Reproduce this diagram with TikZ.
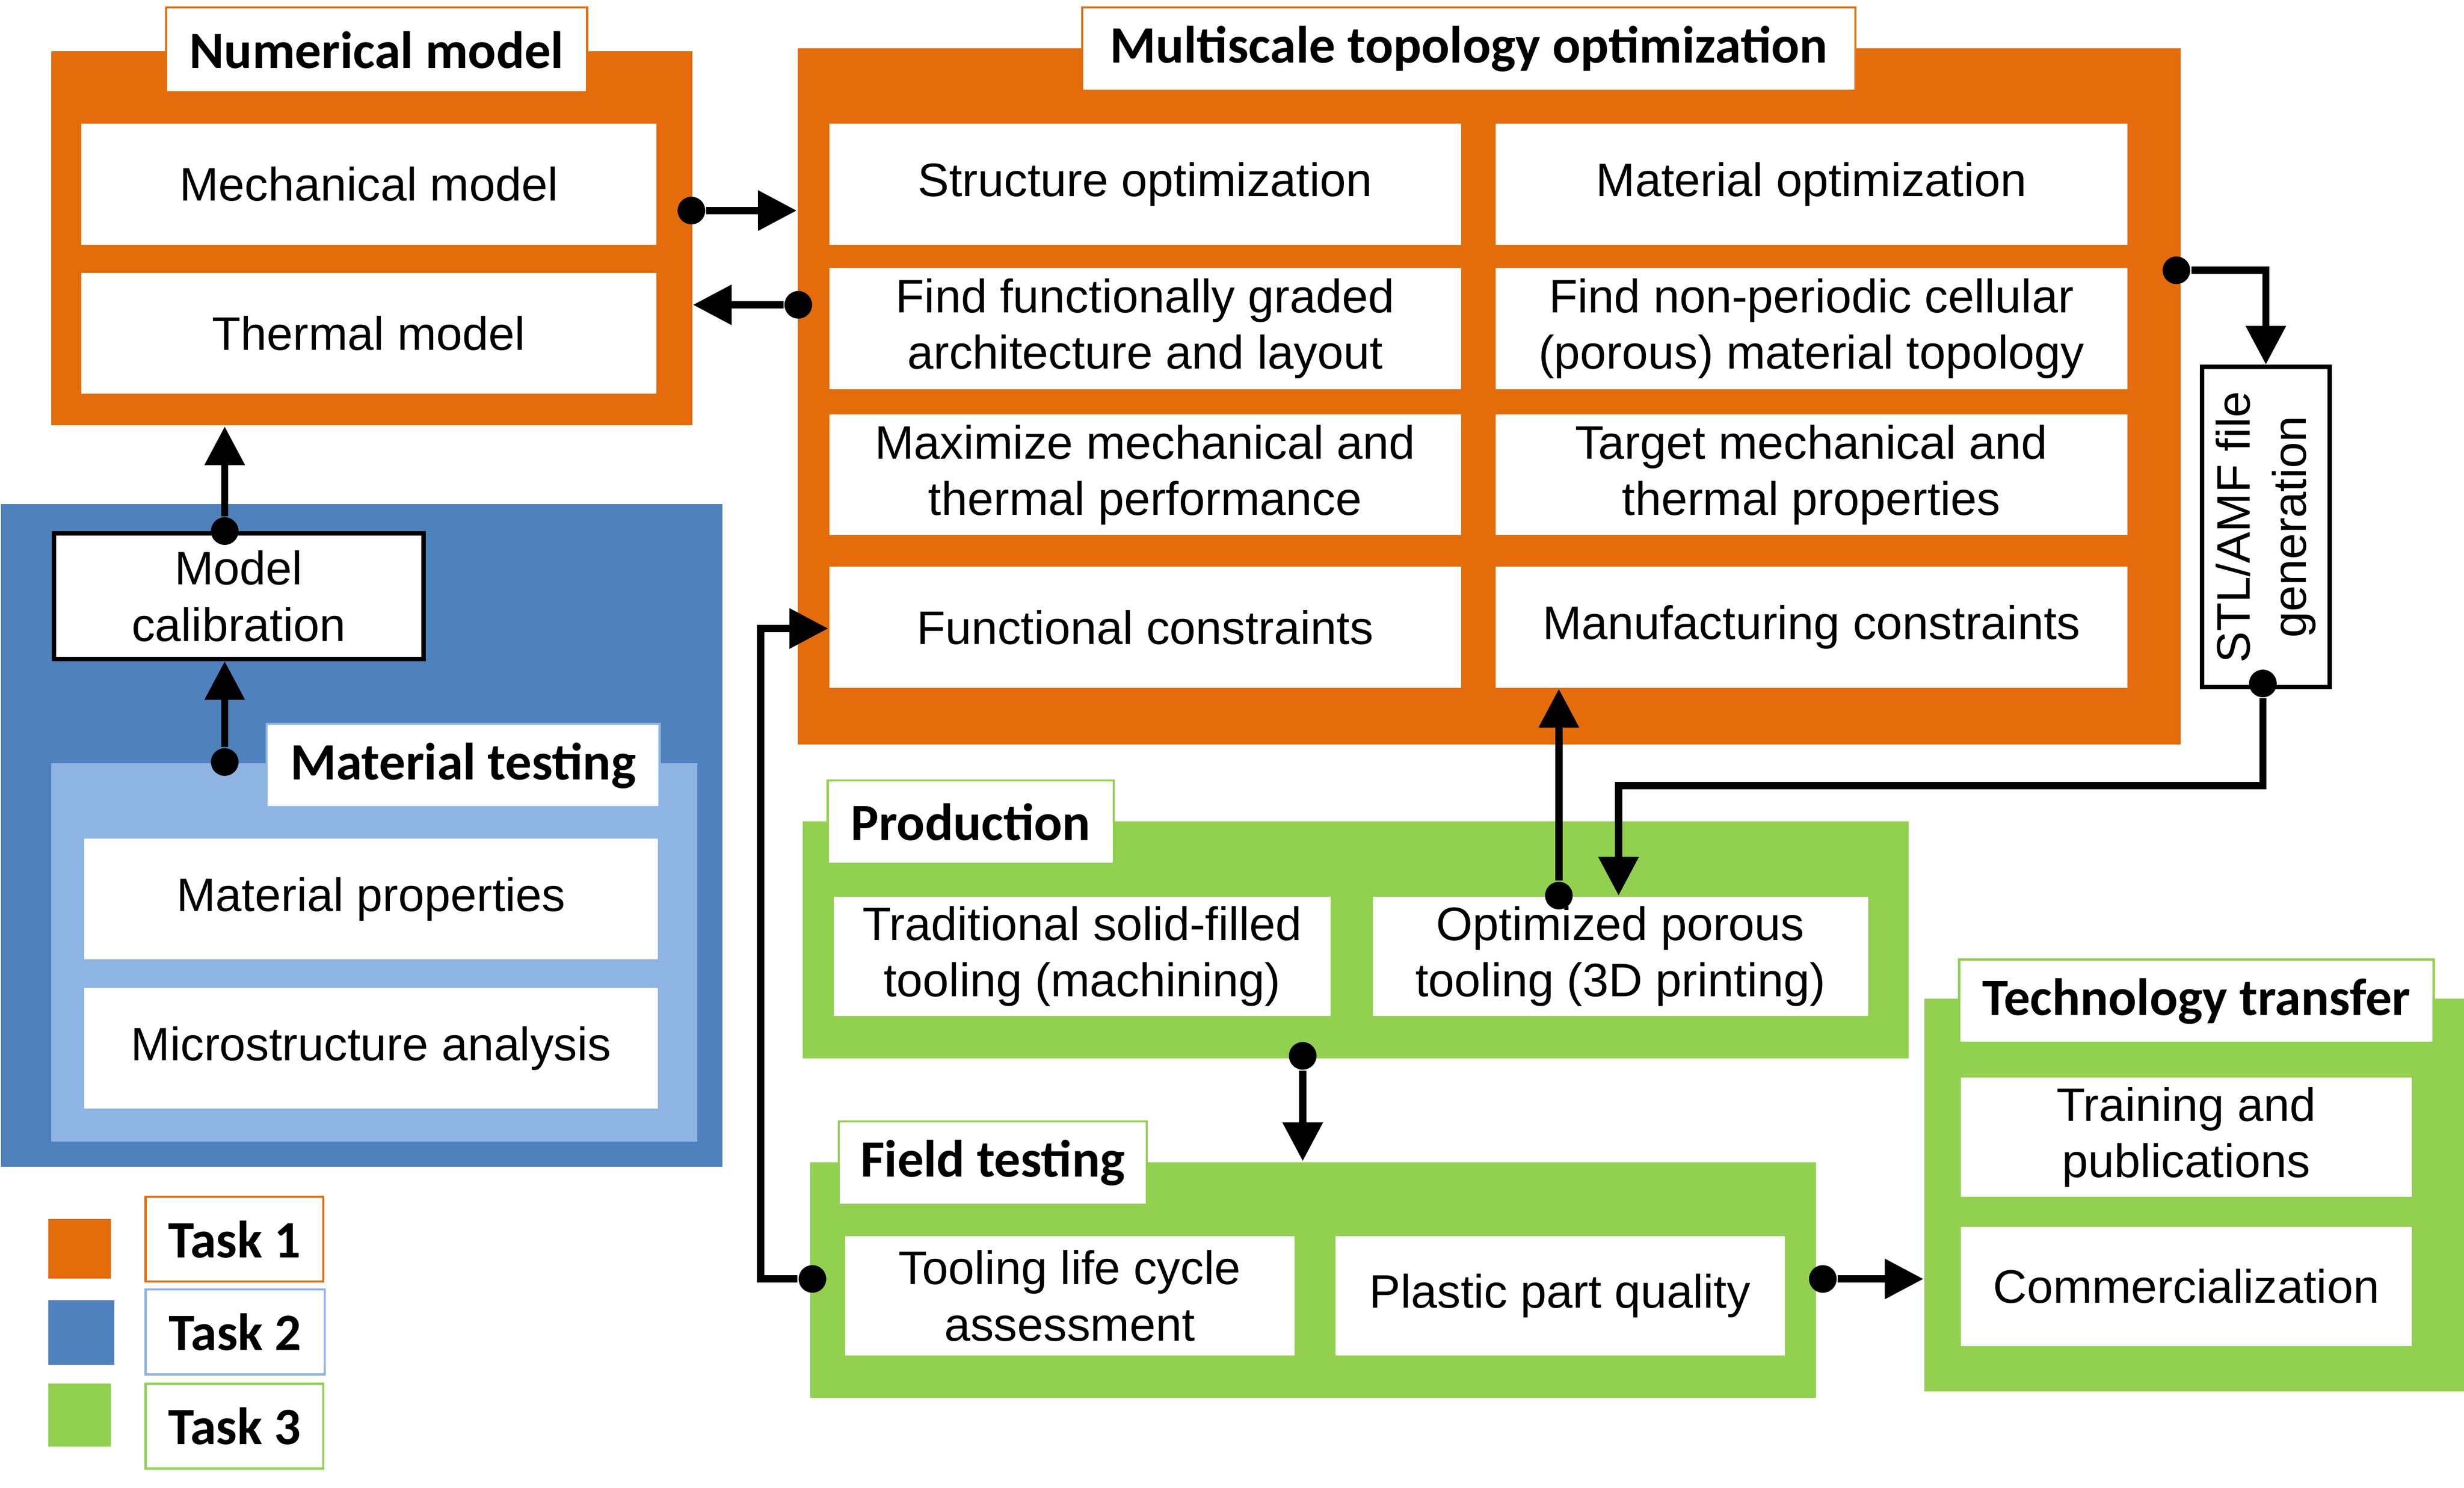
\documentclass[tikz,border=0pt]{standalone}
\usepackage{fontspec}
\setmainfont{Liberation Sans}
\newfontfamily\titlefont{Carlito}
\usetikzlibrary{arrows.meta}
\definecolor{taskone}{HTML}{E46C0A}
\definecolor{tasktwo}{HTML}{4F81BD}
\definecolor{tasktwolight}{HTML}{8EB4E3}
\definecolor{taskthree}{HTML}{92D050}
\begin{document}
\begin{tikzpicture}[
		x=0.01cm,y=-0.01cm,
		frame/.style = {anchor=north west, inner sep=0pt},
		cell/.style = {anchor=north west, fill=white, align=center, inner sep=0pt,
			font=\fontsize{8.5}{10.2}\selectfont},
		title/.style = {anchor=north west, fill=white, draw=#1, line width=0.4pt,
			inner sep=0pt, font=\fontsize{9.5}{11}\selectfont\titlefont\bfseries},
		flow/.style = {line width=1.3pt, -{Triangle[length=7pt,width=7pt]}},
		dot/.style = {circle, fill=black, inner sep=0pt, minimum size=5pt}
	]
	\useasboundingbox (0,0) rectangle (1568,947);
	% frames
	\node (numf) [frame, fill=taskone, minimum width=408*0.01cm, minimum height=238*0.01cm] at (32,32) {};
	\node (multf) [frame, fill=taskone, minimum width=880*0.01cm, minimum height=443*0.01cm] at (507,30) {};
	\node (bluef) [frame, fill=tasktwo, minimum width=459*0.01cm, minimum height=422*0.01cm] at (0,320) {};
	\node (lbluef) [frame, fill=tasktwolight, minimum width=411*0.01cm, minimum height=241*0.01cm] at (32,485) {};
	\node (prodf) [frame, fill=taskthree, minimum width=704*0.01cm, minimum height=151*0.01cm] at (510,522) {};
	\node (fieldf) [frame, fill=taskthree, minimum width=640*0.01cm, minimum height=150*0.01cm] at (515,739) {};
	\node (techf) [frame, fill=taskthree, minimum width=344*0.01cm, minimum height=250*0.01cm] at (1224,635) {};
	% titles
	\node (numt) [title=taskone, minimum width=268*0.01cm, minimum height=54*0.01cm] at (105,4) {Numerical model};
	\node (multt) [title=taskone, minimum width=492*0.01cm, minimum height=53*0.01cm] at (688,4) {Multiscale topology optimization};
	\node (matt) [title=tasktwolight, minimum width=250*0.01cm, minimum height=53*0.01cm] at (169,460) {Material testing};
	\node (prodt) [title=taskthree, minimum width=182*0.01cm, minimum height=53*0.01cm] at (526,496) {Production};
	\node (fieldt) [title=taskthree, minimum width=196*0.01cm, minimum height=53*0.01cm] at (533,713) {Field testing};
	\node (techt) [title=taskthree, minimum width=302*0.01cm, minimum height=53*0.01cm] at (1246,610) {Technology transfer};
	% numerical model
	\node (mech) [cell, minimum width=366*0.01cm, minimum height=77*0.01cm] at (51,78) {Mechanical model};
	\node (therm) [cell, minimum width=366*0.01cm, minimum height=77*0.01cm] at (51,173) {Thermal model};
	% multiscale topology optimization
	\node (struct) [cell, minimum width=402*0.01cm, minimum height=77*0.01cm] at (527,78) {Structure optimization};
	\node (mat) [cell, minimum width=402*0.01cm, minimum height=77*0.01cm] at (951,78) {Material optimization};
	\node (graded) [cell, minimum width=402*0.01cm, minimum height=77*0.01cm] at (527,170) {Find functionally graded\\architecture and layout};
	\node (porous) [cell, minimum width=402*0.01cm, minimum height=77*0.01cm] at (951,170) {Find non-periodic cellular\\(porous) material topology};
	\node (maxperf) [cell, minimum width=402*0.01cm, minimum height=77*0.01cm] at (527,263) {Maximize mechanical and\\thermal performance};
	\node (target) [cell, minimum width=402*0.01cm, minimum height=77*0.01cm] at (951,263) {Target mechanical and\\thermal properties};
	\node (funcc) [cell, minimum width=402*0.01cm, minimum height=77*0.01cm] at (527,360) {Functional constraints};
	\node (manuc) [cell, minimum width=402*0.01cm, minimum height=77*0.01cm] at (951,360) {Manufacturing constraints};
	% STL
	\node (stl) [cell, draw=black, line width=0.8pt, minimum width=81*0.01cm, minimum height=204*0.01cm] at (1400,232) {};
	\node [rotate=90, align=center, font=\fontsize{8.5}{10.2}\selectfont] at (stl.center) {STL/AMF file\\generation};
	% material testing
	\node (calib) [cell, draw=black, line width=0.8pt, minimum width=235*0.01cm, minimum height=80*0.01cm] at (33,338) {Model\\calibration};
	\node (props) [cell, minimum width=365*0.01cm, minimum height=77*0.01cm] at (53,533) {Material properties};
	\node (micro) [cell, minimum width=365*0.01cm, minimum height=77*0.01cm] at (53,628) {Microstructure analysis};
	% production
	\node (trad) [cell, minimum width=316*0.01cm, minimum height=76*0.01cm] at (530,570) {Traditional solid-filled\\tooling (machining)};
	\node (optim) [cell, minimum width=315*0.01cm, minimum height=76*0.01cm] at (873,570) {Optimized porous\\tooling (3D printing)};
	% field testing
	\node (life) [cell, minimum width=286*0.01cm, minimum height=76*0.01cm] at (537,786) {Tooling life cycle\\assessment};
	\node (plastic) [cell, minimum width=286*0.01cm, minimum height=76*0.01cm] at (849,786) {Plastic part quality};
	% technology transfer
	\node (train) [cell, minimum width=287*0.01cm, minimum height=76*0.01cm] at (1247,685) {Training and\\publications};
	\node (comm) [cell, minimum width=287*0.01cm, minimum height=76*0.01cm] at (1247,780) {Commercialization};
	% legend
	\node (sq1) [frame, fill=taskone, minimum width=40*0.01cm, minimum height=38*0.01cm] at (30,775) {};
	\node (sq2) [frame, fill=tasktwo, minimum width=42*0.01cm, minimum height=41*0.01cm] at (30,827) {};
	\node (sq3) [frame, fill=taskthree, minimum width=40*0.01cm, minimum height=40*0.01cm] at (30,880) {};
	\node (task1) [title=taskone, minimum width=113*0.01cm, minimum height=54*0.01cm] at (92,761) {Task 1};
	\node (task2) [title=tasktwolight, minimum width=114*0.01cm, minimum height=54*0.01cm] at (92,820) {Task 2};
	\node (task3) [title=taskthree, minimum width=113*0.01cm, minimum height=54*0.01cm] at (92,880) {Task 3};
	% connectors
	\node (d1) [dot] at (440,134) {};
	\coordinate (e1) at (507,134);
	\node (d2) [dot] at (508,194) {};
	\coordinate (e2) at (441,194);
	\node (d3) [dot] at (143,338) {};
	\node (d4) [dot] at (143,485) {};
	\node (d5) [dot] at (1385,172) {};
	\node (d6) [dot] at (1440,435) {};
	\node (d7) [dot] at (992,570) {};
	\node (d8) [dot] at (829,672) {};
	\coordinate (e8) at (829,739);
	\node (d9) [dot] at (517,814) {};
	\coordinate (e9) at (527,400);
	\node (d10) [dot] at (1160,814) {};
	\coordinate (e10) at (1224,814);
	\draw [flow] (d1) -- (e1);
	\draw [flow] (d2) -- (e2);
	\draw [flow] (d3) -- (numf.south -| d3);
	\draw [flow] (d4) -- (calib.south -| d4);
	\draw [flow] (d5) -| (stl.north);
	\draw [flow] (d6) -- (1440,500) -| (1030,570);
	\draw [flow] (d7) -- (manuc.south -| d7);
	\draw [flow] (d8) -- (e8);
	\draw [flow] (d9) -- (484,814) |- (e9);
	\draw [flow] (d10) -- (e10);
\end{tikzpicture}
\end{document}
